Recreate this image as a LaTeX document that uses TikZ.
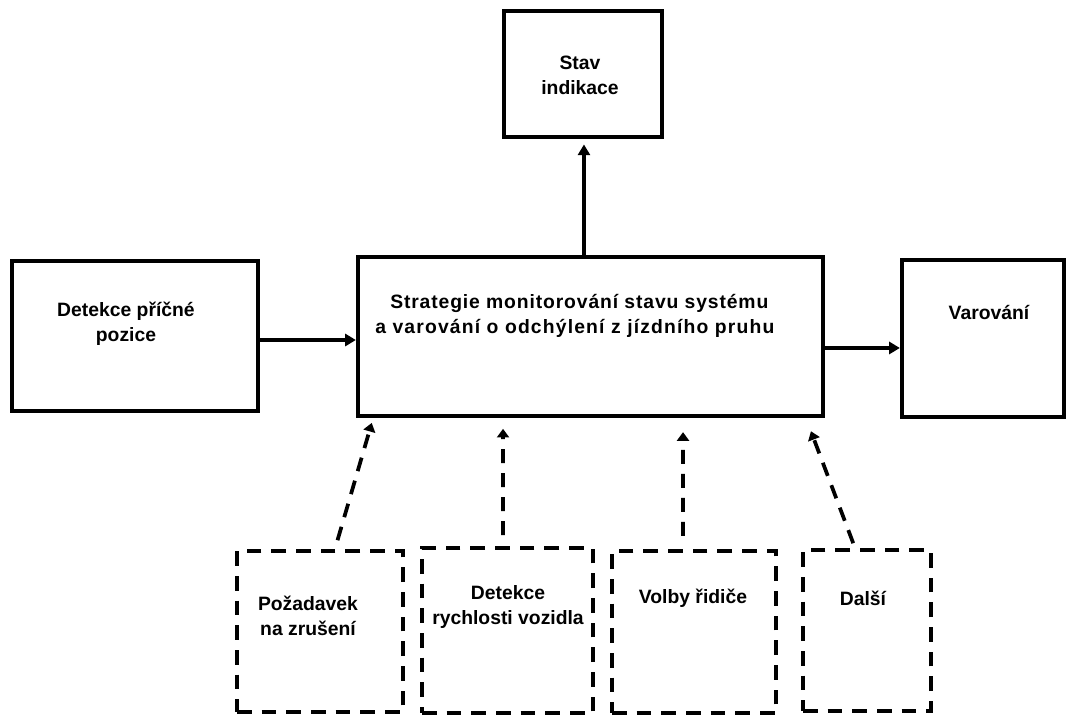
\documentclass[tikz,border=0pt]{standalone}
\usepackage{fontspec}
\setmainfont{Liberation Sans}
\usetikzlibrary{arrows.meta}
\tikzset{
  box/.style 2 args={draw, line width=3.2pt, inner sep=0pt,
    minimum width=#1*0.75pt, minimum height=#2*0.75pt},
  dbox/.style 2 args={box={#1}{#2}, dash pattern=on 11pt off 7.5pt},
  txt/.style={font=\bfseries\fontsize{14.5}{18.75}\selectfont, align=center, inner sep=0pt},
  arr/.style={line width=2.5pt, -{Triangle[length=8pt,width=9pt]}},
  darr/.style={line width=2.8pt, -{Triangle[length=6.5pt,width=9pt]}, dash pattern=on 10.5pt off 7.5pt},
}
\begin{document}
\begin{tikzpicture}[x=0.75pt,y=-0.75pt]
\useasboundingbox (0,0) rectangle (1068,715);
% boxes
\node[box={246}{150}] (pos)  at (135,336) {};
\node[box={465}{159}] (main) at (590.5,336.5) {};
\node[box={158}{126}] (stav) at (583,74) {};
\node[box={162}{157}] (var)  at (983,338.5) {};
\node[dbox={166}{161}] (poz) at (320,631.5) {};
\node[dbox={171}{165}] (ryc) at (507.5,630.5) {};
\node[dbox={164}{162}] (vol) at (694,632) {};
\node[dbox={128}{161}] (dal) at (867,630.5) {};
% texts
\node[txt] (tpos) at (126,324) {Detekce příčné\\pozice};
\node[txt, align=left, anchor=west] (tmain) at (375,316)
  {\hspace*{11.25pt}{\addfontfeatures{LetterSpace=4.5}Strategie monitorování stavu systému}\\
   {\addfontfeatures{LetterSpace=6}a varování o odchýlení z jízdního pruhu}};
\node[txt] (tstav) at (580,75) {Stav\\indikace};
\node[txt] (tvar) at (989,312) {Varování};
\node[txt] (tpoz) at (308,616) {Požadavek\\na zrušení};
\node[txt] (tryc) at (508,607) {Detekce\\rychlosti vozidla};
\node[txt] (tvol) at (693,598) {Volby řidiče};
\node[txt] (tdal) at (863,598) {Další};
% solid arrows
\draw[arr] ([yshift=-3pt]pos.east) -- ([yshift=-3pt]pos.east -| main.west);
\draw[arr] ([yshift=-8.6pt]main.east) -- ([yshift=-8.6pt]main.east -| var.west);
\draw[arr, shorten >=4pt] ([xshift=-4.9pt]main.north) -- ([xshift=-4.9pt]main.north |- stav.south);
% dashed arrows
\draw[darr, shorten <=6.75pt, shorten >=3.75pt] ([xshift=11.25pt]poz.north) -- ([xshift=-163pt]main.south);
\draw[darr, shorten <=8pt, shorten >=8pt] ([xshift=-3.4pt]ryc.north) -- ([xshift=-65.6pt]main.south);
\draw[darr, shorten <=9.75pt, shorten >=10.5pt] ([xshift=-8.25pt]vol.north) -- ([xshift=69.4pt]main.south);
\draw[darr, shorten <=3.75pt, shorten >=10.5pt] ([xshift=-9pt]dal.north) -- ([xshift=161.6pt]main.south);
\end{tikzpicture}
\end{document}
